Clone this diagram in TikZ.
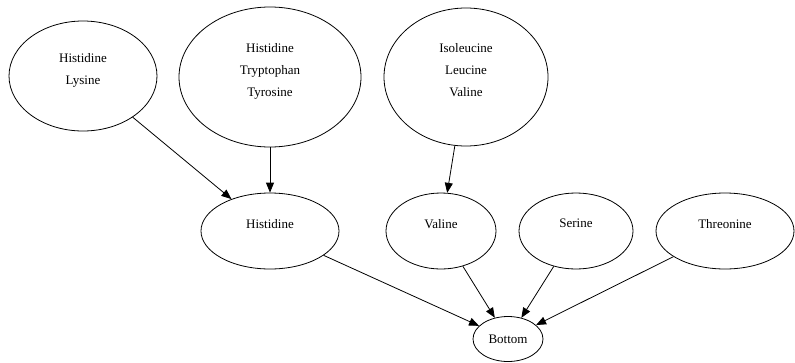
\documentclass[tikz,border=0pt]{standalone}
\usepackage{fontspec}
\setmainfont{Liberation Serif}
\usetikzlibrary{arrows.meta, shapes.geometric}
\tikzset{amino/.style={ellipse,draw,align=center,inner sep=0pt,font=\fontsize{13}{22}\selectfont},line/.style={-{Triangle[length=10pt,width=8pt]}}}

\begin{document}
\begin{tikzpicture}[x=1pt,y=-1pt,line width=0.8pt]
\useasboundingbox (0,0) rectangle (795,362);
\node[amino, minimum width=148pt, minimum height=110pt] (hl) at (83,76) {Histidine\\Lysine\\[-7pt]\mbox{}};
\node[amino, minimum width=182pt, minimum height=140pt] (htt) at (270,77) {Histidine\\Tryptophan\\Tyrosine\\[-7pt]\mbox{}};
\node[amino, minimum width=164pt, minimum height=138pt] (ilv) at (466,77) {Isoleucine\\Leucine\\Valine\\[-7pt]\mbox{}};
\node[amino, minimum width=138pt, minimum height=76pt] (his) at (270,231) {Histidine\\[-7pt]\mbox{}};
\node[amino, minimum width=110pt, minimum height=76pt] (val) at (441,231) {Valine\\[-7pt]\mbox{}};
\node[amino, minimum width=114pt, minimum height=76pt] (ser) at (576,231) {Serine\\[-7pt]\mbox{}};
\node[amino, minimum width=138pt, minimum height=76pt] (thr) at (725,231) {Threonine\\[-7pt]\mbox{}};
\node[amino, minimum width=70pt, minimum height=45pt] (bot) at (508,339) {Bottom};
\draw[line] (hl) -- (his);
\draw[line] (htt) -- (his);
\draw[line] (ilv) -- (val);
\draw[line] (his) -- (bot);
\draw[line] (val) -- (bot);
\draw[line] (ser) -- (bot);
\draw[line] (thr) -- (bot);
\end{tikzpicture}
\end{document}
